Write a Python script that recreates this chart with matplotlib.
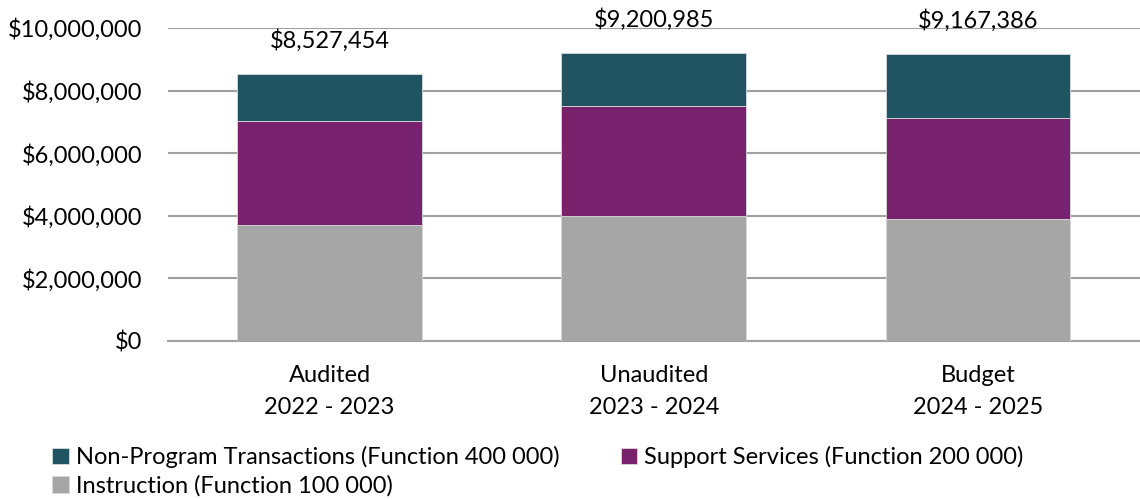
import matplotlib.pyplot as plt
from matplotlib.ticker import FuncFormatter

# Data
categories = ['Audited\n2022 - 2023', 'Unaudited\n2023 - 2024', 'Budget\n2024 - 2025']
instruction = [3710000, 3990000, 3900000]
support = [3320000, 3520000, 3220000]
totals = [8527454, 9200985, 9167386]
non_program = [t - a - b for t, a, b in zip(totals, instruction, support)]

plt.rcParams['font.family'] = ['Lato', 'DejaVu Sans']

fig = plt.figure(figsize=(11.4, 5), dpi=100)
ax = fig.add_axes([0.147, 0.318, 0.853, 0.626])

x = list(range(len(categories)))
width = 0.57
edge = dict(edgecolor='#d9d9d9', linewidth=0.6)

b1 = ax.bar(x, instruction, width, color='#a6a6a6', label='Instruction (Function 100 000)', zorder=3, **edge)
b2 = ax.bar(x, support, width, bottom=instruction, color='#78226e',
            label='Support Services (Function 200 000)', zorder=3, **edge)
bottom2 = [a + b for a, b in zip(instruction, support)]
b3 = ax.bar(x, non_program, width, bottom=bottom2, color='#215463',
            label='Non-Program Transactions (Function 400 000)', zorder=3, **edge)

for xi, t in zip(x, totals):
    ax.annotate(f'${t:,.0f}', (xi, t), xytext=(0, 16), textcoords='offset points',
                ha='center', va='bottom', fontsize=17)

ax.set_xlim(-0.5, 2.5)
ax.set_ylim(0, 10000000)
ax.set_yticks(range(0, 10000001, 2000000))
ax.yaxis.set_major_formatter(FuncFormatter(lambda v, p: f'${v:,.0f}'))
ax.set_xticks(x)
ax.set_xticklabels(categories, linespacing=1.65)
ax.tick_params(axis='both', length=0, labelsize=17)
ax.tick_params(axis='x', pad=17)
ax.tick_params(axis='y', pad=18)
ax.grid(axis='y', color='#a0a0a0', linewidth=1.5, zorder=0)
for s in ['top', 'right', 'left']:
    ax.spines[s].set_visible(False)
ax.spines['bottom'].set_color('#a0a0a0')
ax.spines['bottom'].set_linewidth(1.5)

fig.legend([b3, b1, b2],
           ['Non-Program Transactions (Function 400 000)', 'Instruction (Function 100 000)',
            'Support Services (Function 200 000)'],
           ncol=2, loc='lower left', bbox_to_anchor=(0.027, -0.036), frameon=False,
           fontsize=17, handlelength=0.7, handleheight=0.7, handletextpad=0.3,
           columnspacing=2.6, labelspacing=0.3)

fig.savefig('out.png', dpi=100)
